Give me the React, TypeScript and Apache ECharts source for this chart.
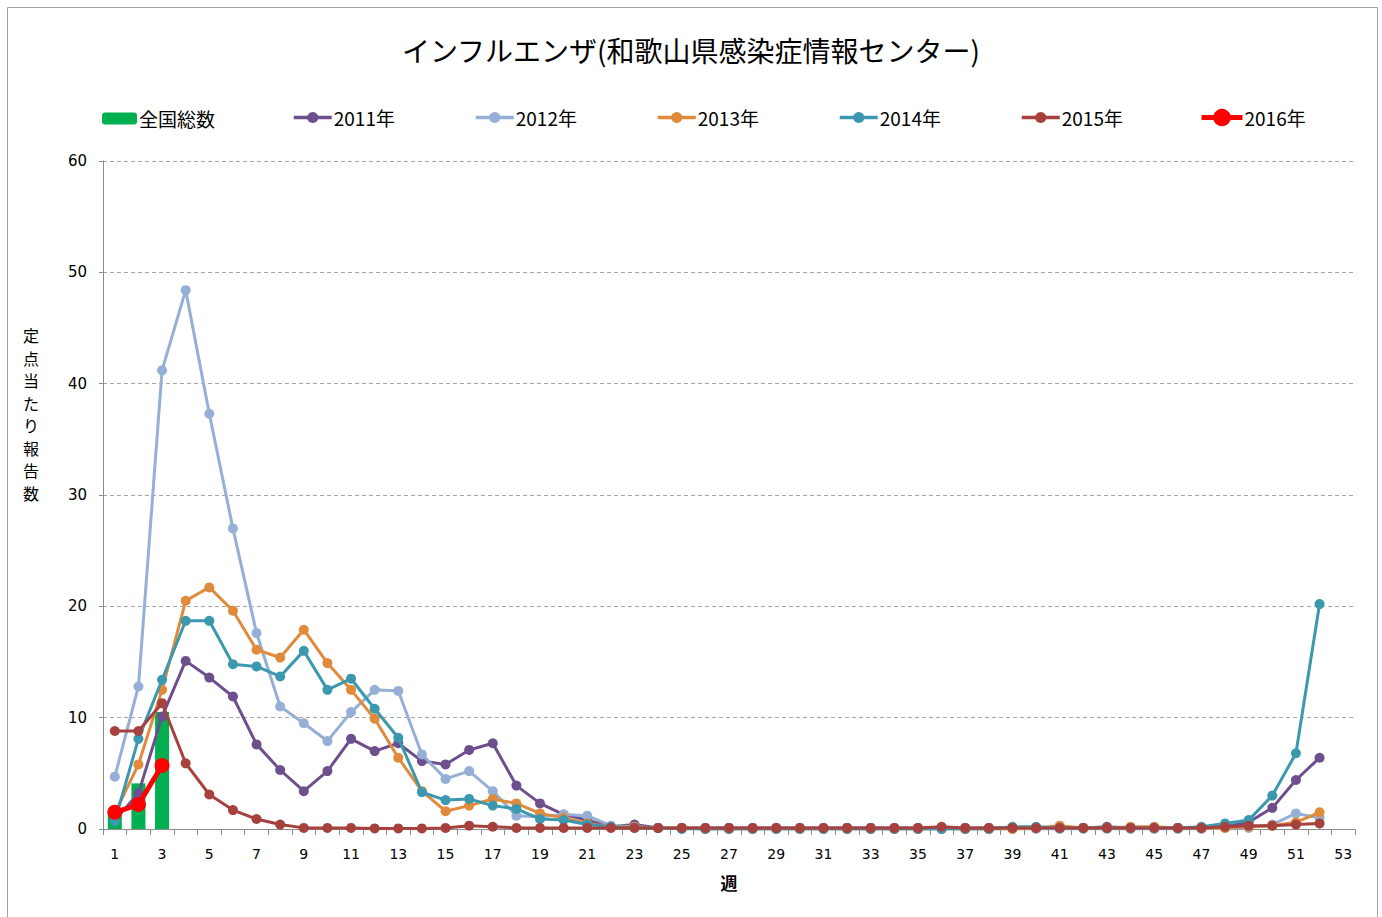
import React, { useEffect, useRef } from "react";
import * as echarts from "echarts";

const weeks = [
  "1","2","3","4","5","6","7","8","9","10","11","12","13","14","15","16","17","18","19","20",
  "21","22","23","24","25","26","27","28","29","30","31","32","33","34","35","36","37","38","39","40",
  "41","42","43","44","45","46","47","48","49","50","51","52","53",
];

const national = [1.3, 4.1, 10.5];

const y2011 = [
  0.8, 3.2, 10.1, 15.1, 13.6, 11.9, 7.6, 5.3, 3.4, 5.2,
  8.1, 7.0, 7.7, 6.1, 5.8, 7.1, 7.7, 3.9, 2.3, 1.3,
  0.8, 0.2, 0.4, 0.1, 0.1, 0.1, 0.1, 0.1, 0.1, 0.1,
  0.1, 0.1, 0.1, 0.1, 0.1, 0.1, 0.1, 0.1, 0.1, 0.1,
  0.1, 0.1, 0.2, 0.1, 0.1, 0.1, 0.1, 0.2, 0.6, 1.9,
  4.4, 6.4,
];
const y2012 = [
  4.7, 12.8, 41.2, 48.4, 37.3, 27.0, 17.6, 11.0, 9.5, 7.9,
  10.5, 12.5, 12.4, 6.7, 4.5, 5.2, 3.4, 1.2, 1.1, 1.3,
  1.2, 0.3, 0.2, 0.1, 0.1, 0.0, 0.0, 0.0, 0.0, 0.0,
  0.0, 0.0, 0.0, 0.0, 0.0, 0.0, 0.0, 0.0, 0.0, 0.0,
  0.0, 0.0, 0.0, 0.0, 0.0, 0.0, 0.0, 0.1, 0.1, 0.4,
  1.4, 1.0,
];
const y2013 = [
  1.4, 5.8, 12.5, 20.5, 21.7, 19.6, 16.1, 15.4, 17.9, 14.9,
  12.5, 9.9, 6.4, 3.4, 1.6, 2.1, 2.7, 2.3, 1.4, 1.0,
  0.5, 0.2, 0.2, 0.1, 0.1, 0.0, 0.0, 0.0, 0.0, 0.0,
  0.0, 0.0, 0.0, 0.0, 0.0, 0.0, 0.0, 0.0, 0.0, 0.1,
  0.3, 0.1, 0.1, 0.2, 0.2, 0.1, 0.1, 0.1, 0.2, 0.3,
  0.6, 1.5,
];
const y2014 = [
  0.7, 8.1, 13.4, 18.7, 18.7, 14.8, 14.6, 13.7, 16.0, 12.5,
  13.5, 10.8, 8.2, 3.3, 2.6, 2.7, 2.1, 1.8, 0.9, 0.8,
  0.4, 0.2, 0.1, 0.1, 0.0, 0.0, 0.0, 0.0, 0.0, 0.0,
  0.0, 0.0, 0.0, 0.0, 0.0, 0.0, 0.0, 0.0, 0.2, 0.2,
  0.1, 0.1, 0.1, 0.1, 0.1, 0.1, 0.2, 0.5, 0.8, 3.0,
  6.8, 20.2,
];
const y2015 = [
  8.8, 8.8, 11.3, 5.9, 3.1, 1.7, 0.9, 0.4, 0.1, 0.1,
  0.1, 0.05, 0.05, 0.05, 0.1, 0.3, 0.2, 0.1, 0.1, 0.1,
  0.1, 0.1, 0.1, 0.1, 0.1, 0.1, 0.1, 0.1, 0.1, 0.1,
  0.1, 0.1, 0.1, 0.1, 0.1, 0.2, 0.1, 0.1, 0.1, 0.1,
  0.1, 0.1, 0.1, 0.1, 0.1, 0.1, 0.1, 0.2, 0.3, 0.3,
  0.4, 0.5,
];
const y2016 = [1.5, 2.2, 5.7];

const yTicks = [0, 10, 20, 30, 40, 50, 60];

const names = ["全国総数", "2011年", "2012年", "2013年", "2014年", "2015年", "2016年"];
const colors = ["#00B050", "#6E4F8E", "#95AFD6", "#E08A3C", "#3C98AF", "#A6413E", "#FF0000"];
const legendLeft = [102, 292, 474, 656, 838, 1020, 1199];

export default function App() {
  const ref = useRef<HTMLDivElement>(null);
  useEffect(() => {
    if (!ref.current) return;
    const chart = echarts.init(ref.current, undefined, { renderer: "svg" });
    const font = "'Noto Sans CJK JP', 'Noto Sans', sans-serif";
    const lineSeries = [y2011, y2012, y2013, y2014, y2015].map((d, i) => ({
      name: names[i + 1],
      type: "line",
      data: d,
      symbol: "circle",
      symbolSize: 10,
      color: colors[i + 1],
      lineStyle: { width: 3, color: colors[i + 1] },
      itemStyle: { color: colors[i + 1] },
      z: 3 + i,
    }));
    chart.setOption({
      animation: false,
      textStyle: { fontFamily: font },
      title: {
        text: "インフルエンザ(和歌山県感染症情報センター)",
        left: "center",
        top: 31,
        textStyle: { fontFamily: font, fontSize: 28, fontWeight: "normal", color: "#000" },
      },
      legend: names.map((n, i) => ({
        data: [n],
        left: legendLeft[i],
        top: i === 0 ? 109 : 108,
        padding: 0,
        itemWidth: i === 0 ? 35 : i === 6 ? 41 : 38,
        itemHeight: i === 0 ? 12 : i === 6 ? 22 : 14,
        itemGap: 0,
        lineStyle: { width: i === 6 ? 5 : 3.5 },
        textStyle: { fontFamily: font, fontSize: 19, color: "#000", padding: [0, 0, 0, -3] },
      })),
      grid: { left: 103, right: 27, top: 161, bottom: 88, containLabel: false },
      xAxis: {
        type: "category",
        data: weeks,
        boundaryGap: true,
        name: "週",
        nameLocation: "middle",
        nameGap: 45,
        nameTextStyle: { fontFamily: font, fontSize: 17, fontWeight: "bold", color: "#000" },
        axisLine: { lineStyle: { color: "#8c8c8c", width: 1 } },
        axisTick: { show: true, interval: 0, length: 6, lineStyle: { color: "#8c8c8c" } },
        axisLabel: {
          interval: 1,
          margin: 18,
          fontFamily: "'DejaVu Sans', sans-serif",
          fontSize: 14,
          color: "#000",
        },
        splitLine: { show: false },
      },
      yAxis: {
        type: "value",
        min: yTicks[0],
        max: yTicks[yTicks.length - 1],
        interval: 10,
        axisLine: { show: true, lineStyle: { color: "#8c8c8c", width: 1 } },
        axisTick: { show: true, length: 4, lineStyle: { color: "#8c8c8c" } },
        axisLabel: {
          margin: 16,
          fontFamily: "'DejaVu Sans', sans-serif",
          fontSize: 15,
          color: "#000",
        },
        splitLine: { show: true, lineStyle: { color: "#a6a6a6", type: [4, 3], width: 1 } },
      },
      graphic: [
        {
          type: "rect",
          shape: { x: 7.5, y: 7.5, width: 1370, height: 915 },
          style: { fill: "none", stroke: "#a0a0a0", lineWidth: 1 },
          silent: true,
        },
        {
          type: "text",
          x: 31,
          y: 414,
          style: {
            text: "定\n点\n当\nた\nり\n報\n告\n数",
            fontFamily: font,
            fontSize: 16,
            lineHeight: 22.5,
            fill: "#000",
            align: "center",
            verticalAlign: "middle",
          },
        },
      ],
      series: [
        {
          name: names[0],
          type: "bar",
          data: national,
          barWidth: 14,
          color: colors[0],
          itemStyle: { color: colors[0] },
          z: 2,
        },
        ...lineSeries,
        {
          name: names[6],
          type: "line",
          data: y2016,
          symbol: "circle",
          symbolSize: 15,
          color: colors[6],
          lineStyle: { width: 5, color: colors[6] },
          itemStyle: { color: colors[6] },
          z: 10,
        },
      ],
    });
    return () => chart.dispose();
  }, []);
  return (
    <div
      ref={ref}
      style={{ position: "fixed", left: 0, top: 0, width: 1382, height: 917, background: "#fff" }}
    />
  );
}
